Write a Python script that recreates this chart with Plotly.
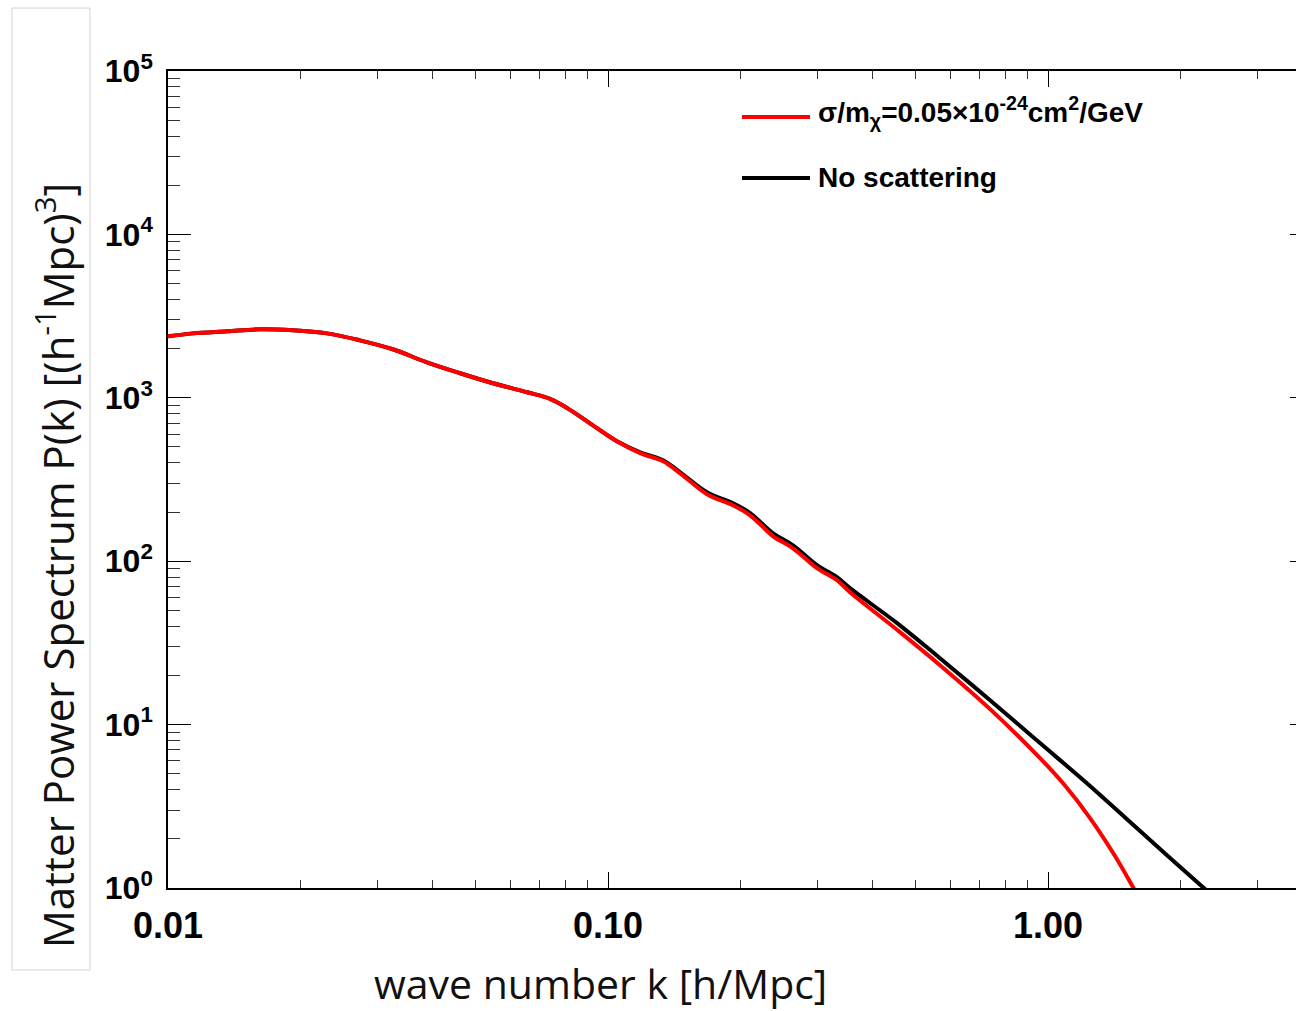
import plotly.graph_objects as go

# ---------------- data ----------------
k_noscat = [0.0100, 0.0114, 0.01362, 0.01618, 0.01923, 0.02297, 0.02729, 0.03243,
            0.03877, 0.04613, 0.0548, 0.0655, 0.07381, 0.08066, 0.0910, 0.1048,
            0.1183, 0.1334, 0.1459, 0.1679, 0.1923, 0.2104, 0.2373, 0.2633,
            0.2985, 0.3313, 0.3548, 0.4539, 0.5682, 0.7385, 0.9590, 1.246,
            1.619, 2.250, 2.396]
P_noscat = [2377, 2479, 2551, 2624, 2587, 2479, 2248, 1982,
            1648, 1413, 1227, 1081, 985, 868, 698, 542,
            464, 415, 350, 264, 226, 197, 148, 125,
            94.6, 79.8, 68.4, 41.8, 25.5, 14.1, 7.71, 4.21,
            2.23, 1.01, 0.87]

k_scat = [0.0100, 0.0114, 0.01362, 0.01618, 0.01923, 0.02297, 0.02729, 0.03243,
          0.03877, 0.04613, 0.0548, 0.0655, 0.07381, 0.08066, 0.0910, 0.1048,
          0.1183, 0.1334, 0.1459, 0.1679, 0.1923, 0.2104, 0.2373, 0.2633,
          0.2985, 0.3313, 0.3548, 0.4609, 0.5682, 0.7385, 0.9590, 1.093,
          1.246, 1.420, 1.561, 1.662]
P_scat = [2377, 2479, 2551, 2624, 2587, 2479, 2248, 1982,
          1648, 1413, 1227, 1081, 985, 868, 698, 542,
          458, 409, 345, 257, 220, 191, 142, 120,
          90.6, 76.5, 64.6, 36.8, 23.1, 12.44, 6.24, 4.24,
          2.68, 1.57, 1.01, 0.744]

series_names = ["σ/m<sub>χ</sub>=0.05×10<sup>-24</sup>cm<sup>2</sup>/GeV",
                "No scattering"]
series_colors = ["#ff0000", "#000000"]

x_tickvals = [0.01, 0.1, 1.0]
x_ticktext = ["0.01", "0.10", "1.00"]
y_tickvals = [1, 10, 100, 1000, 10000, 100000]
y_ticktext = ["10<sup>0</sup>", "10<sup>1</sup>", "10<sup>2</sup>",
              "10<sup>3</sup>", "10<sup>4</sup>", "10<sup>5</sup>"]
x_minor = [m * 10.0 ** e for e in (-2, -1, 0) for m in range(2, 10)]
y_minor = [m * 10.0 ** e for e in range(0, 5) for m in range(2, 10)]

x_title = "wave number k [h/Mpc]"
y_title = "Matter Power Spectrum P(k) [(h<sup>-1</sup>Mpc)<sup>3</sup>]"

# ---------------- layout geometry ----------------
W, H = 1296, 1011
L, R, T, B = 168, 0, 71, 123
PW, PH = W - L - R, H - T - B


def px_x(px):
    return (px - L) / PW


def px_y(py):
    return (H - B - py) / PH


fig = go.Figure()
fig.add_trace(go.Scatter(x=k_noscat, y=P_noscat, mode="lines",
                         line=dict(color=series_colors[1], width=4, shape="spline", smoothing=1.0),
                         showlegend=False, hoverinfo="skip"))
fig.add_trace(go.Scatter(x=k_scat, y=P_scat, mode="lines",
                         line=dict(color=series_colors[0], width=4, shape="spline", smoothing=1.0),
                         showlegend=False, hoverinfo="skip"))
# invisible trace to activate the right-hand tick axis
fig.add_trace(go.Scatter(x=k_noscat, y=P_noscat, yaxis="y2", mode="lines",
                         line=dict(width=0), opacity=0, showlegend=False, hoverinfo="skip"))

fig.update_layout(
    width=W, height=H,
    margin=dict(l=L, r=R, t=T, b=B, pad=0),
    paper_bgcolor="white", plot_bgcolor="white",
    xaxis=dict(type="log", range=[-2, -2 + PW / 440.0],
               showline=True, linecolor="black", linewidth=1.5, mirror="ticks",
               showgrid=False, zeroline=False,
               ticks="inside", ticklen=16, tickwidth=1, tickcolor="black",
               tickmode="array", tickvals=x_tickvals, ticktext=x_ticktext,
               tickfont=dict(family="Liberation Sans", size=36, color="black", weight="bold"),
               ticklabelstandoff=5,
               minor=dict(tickmode="array", tickvals=x_minor, ticks="inside",
                          ticklen=8, tickwidth=1, tickcolor="#333333")),
    yaxis=dict(type="log", range=[0, 5],
               showline=True, linecolor="black", linewidth=1.5, mirror=False,
               showgrid=False, zeroline=False,
               ticks="inside", ticklen=23, tickwidth=1, tickcolor="black",
               tickmode="array", tickvals=y_tickvals, ticktext=y_ticktext,
               tickfont=dict(family="Liberation Sans", size=32, color="black", weight="bold"),
               ticklabelstandoff=7,
               minor=dict(tickmode="array", tickvals=y_minor, ticks="inside",
                          ticklen=12, tickwidth=1, tickcolor="#333333")),
    yaxis2=dict(type="log", range=[0, 5], overlaying="y", side="right", anchor="x",
                showline=False, showgrid=False, zeroline=False,
                ticks="inside", ticklen=6, tickwidth=1, tickcolor="black",
                tickmode="array", tickvals=y_tickvals, showticklabels=False),
)

annotations = [
    dict(text=x_title, x=px_x(600), y=px_y(983), xref="paper", yref="paper",
         xanchor="center", yanchor="middle", showarrow=False,
         font=dict(family="Open Sans", size=41, color="#111111")),
    dict(text=y_title, x=px_x(55), y=px_y(566), xref="paper", yref="paper",
         xanchor="center", yanchor="middle", showarrow=False, textangle=-90,
         font=dict(family="Open Sans", size=42, color="#111111")),
]
shapes = [
    dict(type="rect", xref="paper", yref="paper",
         x0=px_x(12), x1=px_x(90), y0=px_y(970), y1=px_y(8),
         line=dict(color="#d4d4d4", width=1), fillcolor="rgba(0,0,0,0)"),
]
leg_rows = [(117, 112), (178, 177)]
for i, (ly, ty) in enumerate(leg_rows):
    shapes.append(dict(type="line", xref="paper", yref="paper",
                       x0=px_x(742), x1=px_x(810), y0=px_y(ly), y1=px_y(ly),
                       line=dict(color=series_colors[i], width=4)))
    annotations.append(dict(text=series_names[i], x=px_x(816), y=px_y(ty),
                            xref="paper", yref="paper", xanchor="left", yanchor="middle",
                            showarrow=False,
                            font=dict(family="Liberation Sans", size=28, color="black",
                                      weight="bold")))

fig.update_layout(annotations=annotations, shapes=shapes)
fig.write_html("out.html")
